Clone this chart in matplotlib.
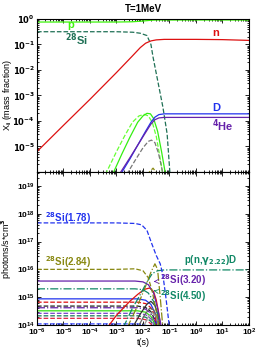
import numpy as np
import matplotlib
matplotlib.use("Agg")
import matplotlib.pyplot as plt

plt.rcParams["font.family"] = ["Liberation Sans", "DejaVu Sans"]
plt.rcParams["font.weight"] = "bold"
plt.rcParams["mathtext.default"] = "bf"

# ---- top panel: mass fractions, (log10 t, log10 X) ----
p_t = [-6, -3, -2.4, -2.0, -1.7, -1.5, 2]
p_x = [-0.12, -0.12, -0.11, -0.08, -0.05, -0.04, -0.04]

si_t = [-6, -3, -2.38, -2.1, -1.85, -1.7, -1.62, -1.43, -1.25, -1.09, -0.98]
si_x = [-0.5, -0.5, -0.52, -0.56, -0.65, -1.0, -1.5, -2.5, -3.45, -4.5, -6.1]

n_t = [-6, -5, -4, -3, -2.4, -2.1, -1.9, -1.7, -1.5, -1.2, 0, 1, 2]
n_x = [-5.2, -4.17, -3.15, -2.1, -1.45, -1.12, -0.95, -0.86, -0.82, -0.8, -0.8, -0.81, -0.84]

d_t = [-2.85, -2.5, -2.2, -1.9, -1.7, -1.55, -1.4, -1.2, 0, 2]
d_x = [-6.1, -5.5, -4.95, -4.4, -4.05, -3.85, -3.75, -3.72, -3.72, -3.72]

he_t = [-2.9, -2.5, -2.2, -1.9, -1.7, -1.55, -1.4, -1.2, 0, 2]
he_x = [-6.1, -5.45, -4.95, -4.45, -4.12, -3.95, -3.88, -3.86, -3.86, -3.86]

gs_t = [-3.15, -2.8, -2.5, -2.2, -2.0, -1.85, -1.72, -1.6, -1.45, -1.3, -1.15]
gs_x = [-6.1, -5.3, -4.65, -4.05, -3.8, -3.7, -3.72, -3.9, -4.4, -5.2, -6.1]

gd_t = [-3.42, -3.0, -2.7, -2.4, -2.15, -1.95, -1.8, -1.65, -1.5, -1.38, -1.25]
gd_x = [-6.1, -5.2, -4.6, -4.05, -3.8, -3.74, -3.8, -4.05, -4.6, -5.3, -6.1]

gr_t = [-2.62, -2.3, -2.0, -1.8, -1.68, -1.55, -1.42, -1.3, -1.25]
gr_x = [-6.1, -5.55, -5.05, -4.8, -4.75, -4.85, -5.25, -5.8, -6.1]

ol_t = [-1.85, -1.62, -1.45]
ol_x = [-6.1, -5.85, -6.1]

# ---- bottom panel: photon emission rates, (log10 t, log10 rate) ----
si178_t = [-6, -3, -2.3, -2.05, -1.85, -1.68, -1.5, -1.35, -1.25, -1.15, -1.0]
si178_y = [17.67, 17.67, 17.65, 17.6, 17.4, 16.95, 16.5, 16.2, 15.8, 15.1, 13.9]

si284_t = [-6, -3, -2.3, -2.0, -1.8, -1.65, -1.5, -1.4]
si284_y = [16.0, 16.0, 16.02, 15.95, 15.7, 15.2, 14.5, 13.9]

pnd_t = [-2.75, -2.4, -2.1, -1.85, -1.65, -1.45, -1.2, 2]
pnd_y = [13.9, 14.6, 15.1, 15.55, 15.85, 15.95, 15.98, 15.98]

si320_t = [-6, -2.3, -2.0, -1.8, -1.6, -1.45, -1.3]
si320_y = [15.58, 15.58, 15.55, 15.45, 15.15, 14.6, 13.9]

si450_t = [-6, -2.3, -2.0, -1.8, -1.6, -1.45, -1.35]
si450_y = [15.3, 15.3, 15.27, 15.15, 14.85, 14.4, 13.9]

flat_levels = [14.94, 14.82, 14.68, 14.62, 14.51, 14.42, 14.33, 14.24, 14.04]
flat_colors = ["#2233ee", "#dd1111", "#222222", "#6622aa", "#33dd11",
               "#7744cc", "#117755", "#dd2244", "#3344ff"]
flat_styles = ["-", "--", "--", "-.", "-", "--", "--", "--", "--"]
flat_t = [-6, -2.2, -1.9, -1.7, -1.55, -1.42]
flat_drop = [0, 0, -0.05, -0.2, -0.5, -1.2]

red_t = [-3.35, -3.0, -2.5, -2.2, -1.95, -1.75, -1.6, -1.5, -1.4, -1.33]
red_y = [13.9, 14.35, 14.85, 15.1, 15.28, 15.33, 15.2, 14.9, 14.4, 13.9]

olr_t = [-2.6, -2.2, -1.9, -1.7, -1.55, -1.45, -1.35, -1.25]
olr_y = [13.9, 14.7, 15.4, 15.9, 16.2, 16.0, 15.0, 13.9]

bump_t = [[-2.4, -2.1, -1.85, -1.7, -1.55, -1.42, -1.35],
          [-2.2, -1.95, -1.75, -1.6, -1.45, -1.38],
          [-2.0, -1.8, -1.65, -1.5, -1.4]]
bump_y = [[13.9, 14.4, 14.75, 14.85, 14.7, 14.3, 13.9],
          [13.9, 14.35, 14.6, 14.55, 14.2, 13.9],
          [13.9, 14.3, 14.45, 14.3, 13.9]]
bump_colors = ["#333333", "#666666", "#999999"]


def L(a):
    return 10.0 ** np.array(a, dtype=float)


fig = plt.figure(figsize=(2.58, 3.52), dpi=100)
ax1 = fig.add_axes([0.1434, 0.5114, 0.8217, 0.4347])
ax2 = fig.add_axes([0.1434, 0.0767, 0.8217, 0.4347])

lw = 0.9
ax1.plot(L(p_t), L(p_x), color="#3df50a", lw=lw)
ax1.plot(L(si_t), L(si_x), color="#1f7055", lw=lw, ls="--")
ax1.plot(L(n_t), L(n_x), color="#dd1111", lw=lw)
ax1.plot(L(gd_t), L(gd_x), color="#66ff33", lw=lw, ls="--")
ax1.plot(L(gs_t), L(gs_x), color="#33ee11", lw=lw)
ax1.plot(L(gr_t), L(gr_x), color="#777777", lw=lw, ls="--")
ax1.plot(L(ol_t), L(ol_x), color="#888811", lw=lw, ls="--")
ax1.plot(L(d_t), L(d_x), color="#2233ee", lw=lw)
ax1.plot(L(he_t), L(he_x), color="#6622aa", lw=lw)

tk = dict(fontsize=8, fontweight="bold", va="center")
ax1.text(1.4e-5, 0.58, "p", color="#3df50a", **tk)
ax1.text(1.1e-5, 0.15, "$^{28}$Si", color="#1f7055", **tk)
ax1.text(4.2e0, 0.28, "n", color="#dd1111", **tk)
ax1.text(4.0e0, 3.2e-4, "D", color="#2233ee", **tk)
ax1.text(4.0e0, 6.3e-5, "$^{4}$He", color="#6622aa", **tk)

for i, lev in enumerate(flat_levels):
    ax2.plot(L(flat_t), L(np.array(flat_drop) + lev), color=flat_colors[i],
             ls=flat_styles[i], lw=lw)
for bt, by, bc in zip(bump_t, bump_y, bump_colors):
    ax2.plot(L(bt), L(by), color=bc, lw=lw)
ax2.plot(L(red_t), L(red_y), color="#dd1111", lw=lw)
ax2.plot(L(olr_t), L(olr_y), color="#888811", lw=lw, ls="-.")
ax2.plot(L(si450_t), L(si450_y), color="#118866", lw=lw, ls="-.")
ax2.plot(L(si320_t), L(si320_y), color="#6622aa", lw=lw)
ax2.plot(L(pnd_t), L(pnd_y), color="#118866", lw=lw, ls="-.")
ax2.plot(L(si284_t), L(si284_y), color="#888811", lw=lw, ls="--")
ax2.plot(L(si178_t), L(si178_y), color="#2233ee", lw=lw, ls="--")

tb = dict(fontsize=7, fontweight="bold", va="center")
ax2.text(2.0e-6, 10 ** 17.85, "$^{28}$Si(1.78)", color="#2233ee", **tb)
ax2.text(2.0e-6, 10 ** 16.27, "$^{28}$Si(2.84)", color="#888811", **tb)
ax2.text(3.6e-1, 10 ** 16.33, "p(n,$\\gamma_{2.22}$)D", color="#118866", **tb)
ax2.annotate("$^{28}$Si(3.20)", xy=(2.0e-2, 10 ** 15.56), xytext=(4.4e-2, 10 ** 15.6),
             color="#6622aa", arrowprops=dict(arrowstyle="->", color="#6622aa", lw=0.6),
             **tb)
ax2.annotate("$^{28}$Si(4.50)", xy=(2.0e-2, 10 ** 15.25), xytext=(4.4e-2, 10 ** 15.05),
             color="#118866", arrowprops=dict(arrowstyle="->", color="#118866", lw=0.6),
             **tb)

for ax in (ax1, ax2):
    ax.set_xscale("log")
    ax.set_yscale("log")
    ax.set_xlim(1e-6, 1e2)
    ax.set_xticks([10.0 ** k for k in range(-6, 3)])
    ax.tick_params(which="both", direction="in", top=True, right=True,
                   labelsize=6, length=3, width=0.6, pad=1.5)
    ax.tick_params(which="minor", length=1.5)
    for s in ax.spines.values():
        s.set_linewidth(0.8)

ax1.set_ylim(1e-6, 1)
ax1.set_yticks([10.0 ** k for k in range(-6, 1)])
ax1.set_yticklabels([""] + ["$10^{%d}$" % k for k in range(-5, 1)])
ax1.tick_params(labelbottom=False)
ax1.set_ylabel("X$_i$ (mass fraction)", fontsize=6.5)
ax1.yaxis.set_label_coords(-0.108, 0.5)
ax1.set_title("T=1MeV", fontsize=7, fontweight="bold", pad=5)

ax2.set_ylim(1e14, 10 ** 19.5)
ax2.set_yticks([10.0 ** k for k in range(14, 20)])
ax2.set_ylabel("photons/s*cm$^3$", fontsize=6.5)
ax2.yaxis.set_label_coords(-0.108, 0.5)
ax2.set_xlabel("t(s)", fontsize=6.5, labelpad=0)

fig.savefig("out.png", dpi=100)
